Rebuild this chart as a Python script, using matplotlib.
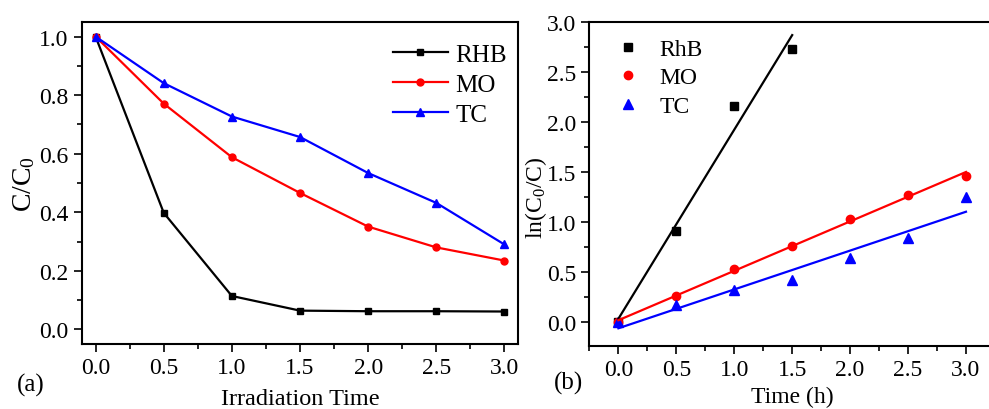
import numpy as np
import matplotlib
matplotlib.use("Agg")
import matplotlib.pyplot as plt
from matplotlib.ticker import MultipleLocator

plt.rcParams['font.family'] = ['Liberation Serif', 'DejaVu Serif']
plt.rcParams['mathtext.fontset'] = 'custom'
plt.rcParams['mathtext.rm'] = 'Liberation Serif'
plt.rcParams['mathtext.it'] = 'Liberation Serif'

# panel (a): C/C0 vs irradiation time
time_h = [0.0, 0.5, 1.0, 1.5, 2.0, 2.5, 3.0]
rhb_ratio = [1.0, 0.398, 0.114, 0.064, 0.062, 0.062, 0.061]
mo_ratio = [1.0, 0.771, 0.588, 0.466, 0.351, 0.280, 0.235]
tc_ratio = [1.0, 0.841, 0.727, 0.657, 0.534, 0.432, 0.290]

# panel (b): ln(C0/C) vs time
rhb_time = [0.0, 0.5, 1.0, 1.5]
rhb_ln = [0.0, 0.914, 2.16, 2.73]
mo_ln = [0.0, 0.266, 0.532, 0.758, 1.031, 1.274, 1.463]
tc_ln = [0.0, 0.17, 0.325, 0.42, 0.64, 0.845, 1.254]

fs_tick = 17
fs_label = 17

fig = plt.figure(figsize=(9.89, 4.10), dpi=100)
ax1 = fig.add_axes([0.0829, 0.1585, 0.4409, 0.7855])
ax2 = fig.add_axes([0.596, 0.154, 0.41, 0.7906])

# ---- (a)
ax1.plot(time_h, rhb_ratio, color='black', marker='s', ms=5, lw=1.6, label='RHB')
ax1.plot(time_h, mo_ratio, color='red', marker='o', ms=5, lw=1.6, label='MO')
ax1.plot(time_h, tc_ratio, color='blue', marker='^', ms=5.5, lw=1.6, label='TC')
ax1.set_xlim(-0.1, 3.1)
ax1.set_ylim(-0.05, 1.05)
ax1.xaxis.set_major_locator(MultipleLocator(0.5))
ax1.xaxis.set_minor_locator(MultipleLocator(0.25))
ax1.yaxis.set_major_locator(MultipleLocator(0.2))
ax1.yaxis.set_minor_locator(MultipleLocator(0.1))
ax1.set_xlabel('Irradiation Time', fontsize=17.5, labelpad=7)
ax1.set_ylabel('C/C$_0$', fontsize=20, labelpad=2)
ax1.legend(loc='upper right', frameon=False, fontsize=18, handlelength=2.2,
           handletextpad=0.3, labelspacing=0.3, borderaxespad=0.4,
           bbox_to_anchor=(1.02, 0.995))
fig.text(0.017, 0.045, '(a)', fontsize=18)

# ---- (b)
rhb_fit = np.polyfit(rhb_time, rhb_ln, 1)
mo_fit = np.polyfit(time_h, mo_ln, 1)
tc_fit = np.polyfit(time_h, tc_ln, 1)
ax2.plot(rhb_time, rhb_ln, 's', color='black', ms=6, label='RhB')
ax2.plot(time_h, mo_ln, 'o', color='red', ms=6, label='MO')
ax2.plot(time_h, tc_ln, '^', color='blue', ms=6.5, label='TC')
ax2.plot(rhb_time, np.polyval(rhb_fit, rhb_time), color='black', lw=1.6)
ax2.plot(time_h, np.polyval(mo_fit, time_h), color='red', lw=1.6)
ax2.plot(time_h, np.polyval(tc_fit, time_h), color='blue', lw=1.6)
ax2.set_xlim(-0.25, 3.25)
ax2.set_ylim(-0.235, 3.0)
ax2.xaxis.set_major_locator(MultipleLocator(0.5))
ax2.xaxis.set_minor_locator(MultipleLocator(0.25))
ax2.yaxis.set_major_locator(MultipleLocator(0.5))
ax2.yaxis.set_minor_locator(MultipleLocator(0.25))
ax2.set_xlabel('Time (h)', fontsize=fs_label, labelpad=4)
ax2.set_ylabel('ln(C$_0$/C)', fontsize=fs_label)
ax2.yaxis.set_label_coords(-0.1, 0.46)
ax2.legend(loc='upper left', frameon=False, fontsize=17, handlelength=1.5,
           handletextpad=0.6, labelspacing=0.3, borderaxespad=0.3,
           bbox_to_anchor=(0.01, 1.0))
fig.text(0.56, 0.05, '(b)', fontsize=18)

for ax in (ax1, ax2):
    ax.tick_params(which='both', direction='out', top=False, right=False,
                   labelsize=fs_tick, width=1.2)
    ax.tick_params(which='major', length=6)
    ax.tick_params(which='minor', length=3.5)
    for sp in ax.spines.values():
        sp.set_linewidth(1.5)

fig.savefig('out.png', dpi=100)
